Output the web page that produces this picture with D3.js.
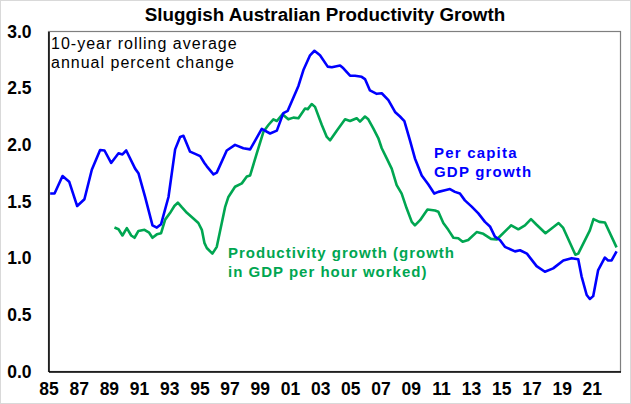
<!DOCTYPE html>
<html>
<head>
<meta charset="utf-8">
<script src="https://cdn.jsdelivr.net/npm/d3@7"></script>
<style>
  body { margin: 0; background: #fff; }
  svg { display: block; font-family: Arial, "Liberation Sans", sans-serif; }
</style>
</head>
<body>
<div id="chart"></div>
<script>
// Per capita GDP growth, 10-year rolling average (decimal year, % pa)
const gdpYears = [1985.11, 1985.40, 1985.93, 1986.37, 1986.90, 1987.38, 1987.87, 1988.42, 1988.71, 1989.15,
  1989.64, 1989.90, 1990.15, 1990.74, 1990.96, 1991.40, 1991.89, 1992.18, 1992.46, 1992.95,
  1993.39, 1993.72, 1993.94, 1994.38, 1994.72, 1995.05, 1995.33, 1995.49, 1995.93, 1996.15,
  1996.81, 1997.36, 1997.91, 1998.36, 1999.13, 1999.68, 2000.13, 2000.56, 2000.85, 2001.56,
  2001.89, 2002.33, 2002.62, 2002.99, 2003.50, 2003.77, 2004.32, 2004.54, 2004.98, 2005.31,
  2005.75, 2005.97, 2006.30, 2006.75, 2007.08, 2007.52, 2007.96, 2008.29, 2008.58, 2008.95,
  2009.28, 2009.73, 2010.17, 2010.56, 2010.83, 2011.27, 2011.60, 2011.93, 2012.26, 2012.59,
  2013.04, 2013.48, 2013.92, 2014.25, 2014.58, 2014.91, 2015.24, 2015.91, 2016.24, 2016.70,
  2017.34, 2017.89, 2018.44, 2019.11, 2019.66, 2020.10, 2020.32, 2020.66, 2020.87, 2021.09,
  2021.42, 2021.86, 2022.08, 2022.31, 2022.64];
const gdpValues = [1.57, 1.57, 1.725, 1.675, 1.46, 1.52, 1.78, 1.955, 1.95, 1.84,
  1.925, 1.915, 1.95, 1.79, 1.75, 1.54, 1.29, 1.27, 1.30, 1.54,
  1.96, 2.07, 2.08, 1.94, 1.92, 1.90, 1.84, 1.81, 1.74, 1.755,
  1.95, 2.00, 1.97, 1.96, 2.14, 2.10, 2.125, 2.28, 2.30, 2.52,
  2.66, 2.79, 2.83, 2.79, 2.69, 2.685, 2.70, 2.675, 2.61, 2.61,
  2.60, 2.58, 2.48, 2.45, 2.455, 2.395, 2.29, 2.25, 2.21, 2.04,
  1.88, 1.73, 1.65, 1.57, 1.585, 1.60, 1.61, 1.585, 1.57, 1.51,
  1.455, 1.395, 1.32, 1.28, 1.19, 1.16, 1.10, 1.06, 1.07, 1.04,
  0.93, 0.88, 0.91, 0.98, 1.00, 0.99, 0.84, 0.675, 0.64, 0.665,
  0.895, 1.005, 0.98, 0.98, 1.06];

// Productivity growth (GDP per hour worked), 10-year rolling average
const prodYears = [1989.37, 1989.64, 1989.90, 1990.19, 1990.48, 1990.70, 1990.96, 1991.36, 1991.67, 1991.89,
  1992.18, 1992.46, 1992.73, 1993.06, 1993.34, 1993.57, 1993.83, 1994.17, 1994.60, 1994.93,
  1995.16, 1995.33, 1995.49, 1995.86, 1996.15, 1996.70, 1996.92, 1997.36, 1997.81, 1998.14,
  1998.36, 1998.80, 1999.24, 1999.57, 1999.90, 2000.13, 2000.50, 2000.89, 2001.23, 2001.56,
  2002.00, 2002.18, 2002.44, 2002.66, 2003.11, 2003.44, 2003.66, 2004.10, 2004.65, 2004.98,
  2005.42, 2005.64, 2005.97, 2006.19, 2006.52, 2006.85, 2007.08, 2007.41, 2007.74, 2008.07,
  2008.40, 2008.73, 2009.07, 2009.28, 2009.62, 2010.11, 2010.61, 2010.83, 2011.16, 2011.49,
  2011.83, 2012.15, 2012.44, 2012.81, 2013.37, 2013.81, 2014.32, 2014.70, 2015.66, 2016.13,
  2016.57, 2016.97, 2017.34, 2017.93, 2018.80, 2019.09, 2019.91, 2020.10, 2020.87, 2021.11,
  2021.50, 2021.87, 2022.64];
const prodValues = [1.27, 1.255, 1.20, 1.265, 1.20, 1.18, 1.24, 1.25, 1.225, 1.18,
  1.21, 1.22, 1.34, 1.40, 1.46, 1.49, 1.45, 1.40, 1.35, 1.31,
  1.25, 1.135, 1.09, 1.04, 1.10, 1.45, 1.54, 1.63, 1.66, 1.72,
  1.73, 1.925, 2.115, 2.175, 2.225, 2.21, 2.27, 2.225, 2.24, 2.235,
  2.32, 2.315, 2.36, 2.335, 2.175, 2.07, 2.04, 2.125, 2.225, 2.21,
  2.235, 2.205, 2.25, 2.225, 2.145, 2.06, 1.97, 1.88, 1.79, 1.645,
  1.57, 1.44, 1.32, 1.29, 1.335, 1.43, 1.42, 1.41, 1.31, 1.25,
  1.18, 1.175, 1.145, 1.16, 1.23, 1.215, 1.17, 1.165, 1.29, 1.255,
  1.29, 1.345, 1.295, 1.22, 1.31, 1.27, 1.03, 1.04, 1.245, 1.345,
  1.32, 1.315, 1.095];

const xTickYears = [1985, 1987, 1989, 1991, 1993, 1995, 1997, 1999, 2001, 2003,
  2005, 2007, 2009, 2011, 2013, 2015, 2017, 2019, 2021];
const yTicks = [0, 0.5, 1.0, 1.5, 2.0, 2.5, 3.0];

const width = 631;
const height = 404;
const margin = { top: 31.5, right: 10.5, bottom: 32.5, left: 48.5 };
const plotW = width - margin.left - margin.right;
const plotH = height - margin.top - margin.bottom;

const svg = d3.select('#chart')
  .append('svg')
  .attr('width', width)
  .attr('height', height);

// faint outer border
svg.append('rect')
  .attr('x', 0.5).attr('y', 0.5)
  .attr('width', width - 1).attr('height', height - 1)
  .attr('fill', 'none')
  .attr('stroke', '#d9d9d9');

const g = svg.append('g')
  .attr('transform', `translate(${margin.left},${margin.top})`);

const x = d3.scaleLinear()
  .domain([1985, 2022.9])
  .range([0, plotW]);

const y = d3.scaleLinear()
  .domain([0, 3])
  .range([plotH, 0]);

// plot frame
g.append('rect')
  .attr('width', plotW)
  .attr('height', plotH)
  .attr('fill', 'none')
  .attr('stroke', '#7f7f7f')
  .attr('stroke-width', 1.2);

// y-axis
g.append('g')
  .call(d3.axisLeft(y).tickValues(yTicks).tickSize(0).tickPadding(17).tickFormat(d3.format('.1f')))
  .call(ax => ax.select('.domain').attr('stroke', '#000').attr('stroke-width', 1.5))
  .selectAll('text')
  .attr('font-size', '17.5px')
  .attr('font-weight', 'bold')
  .attr('fill', '#000');

// x-axis
g.append('g')
  .attr('transform', `translate(0,${plotH})`)
  .call(d3.axisBottom(x).tickValues(xTickYears).tickSize(0).tickPadding(11)
    .tickFormat(d => String(d % 100).padStart(2, '0')))
  .call(ax => ax.select('.domain').attr('stroke', '#000').attr('stroke-width', 1.5))
  .selectAll('text')
  .attr('font-size', '17.5px')
  .attr('font-weight', 'bold')
  .attr('fill', '#000');

// lines
const line = d3.line()
  .x(d => x(d[0]))
  .y(d => y(d[1]));

g.append('path')
  .datum(d3.zip(prodYears, prodValues))
  .attr('fill', 'none')
  .attr('stroke', '#00a651')
  .attr('stroke-width', 2.6)
  .attr('stroke-linejoin', 'round')
  .attr('d', line);

g.append('path')
  .datum(d3.zip(gdpYears, gdpValues))
  .attr('fill', 'none')
  .attr('stroke', '#0000ff')
  .attr('stroke-width', 2.6)
  .attr('stroke-linejoin', 'round')
  .attr('d', line);

// title
svg.append('text')
  .attr('x', 325)
  .attr('y', 21)
  .attr('text-anchor', 'middle')
  .attr('font-size', '18.8px')
  .attr('font-weight', 'bold')
  .text('Sluggish Australian Productivity Growth');

// annotations
const note = svg.append('text')
  .attr('font-size', '16px')
  .attr('letter-spacing', '1px')
  .attr('fill', '#000');
note.append('tspan').attr('x', 51).attr('y', 48.5).text('10-year rolling average');
note.append('tspan').attr('x', 51).attr('y', 67.5).text('annual percent change');

const gdpLabel = svg.append('text')
  .attr('font-size', '15px')
  .attr('font-weight', 'bold')
  .attr('letter-spacing', '1.2px')
  .attr('fill', '#0000ff');
gdpLabel.append('tspan').attr('x', 434).attr('y', 158).text('Per capita');
gdpLabel.append('tspan').attr('x', 434).attr('y', 177).text('GDP growth');

const prodLabel = svg.append('text')
  .attr('font-size', '15px')
  .attr('font-weight', 'bold')
  .attr('letter-spacing', '1px')
  .attr('fill', '#00a651');
prodLabel.append('tspan').attr('x', 228).attr('y', 258).text('Productivity growth (growth');
prodLabel.append('tspan').attr('x', 228).attr('y', 276.5).text('in GDP per hour worked)');
</script>
</body>
</html>
